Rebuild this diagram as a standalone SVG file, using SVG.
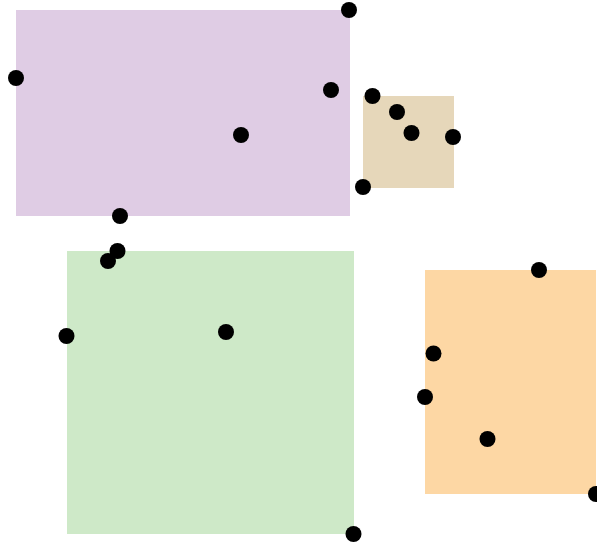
<svg xmlns="http://www.w3.org/2000/svg" width="597" height="545" viewBox="0 0 597 545">
<style>
.dot{fill:#000}
</style>
<rect width="597" height="545" fill="#fff"/>
<g id="regions">
<rect id="purple" x="16" y="10" width="334" height="206" fill="#dfcce4"/>
<rect id="tan" x="363" y="96" width="91" height="92" fill="#e6d7ba"/>
<rect id="green" x="67" y="251" width="287" height="283" fill="#cee9c8"/>
<rect id="orange" x="425" y="270" width="171" height="224" fill="#fdd7a4"/>
</g>
<g id="points">
<circle class="dot" cx="349" cy="10" r="8"/>
<circle class="dot" cx="16" cy="78" r="8"/>
<circle class="dot" cx="331" cy="90" r="8"/>
<circle class="dot" cx="372.5" cy="96" r="8"/>
<circle class="dot" cx="397" cy="112" r="8"/>
<circle class="dot" cx="411.5" cy="133" r="8"/>
<circle class="dot" cx="453" cy="137" r="8"/>
<circle class="dot" cx="363" cy="187" r="8"/>
<circle class="dot" cx="241" cy="135" r="8"/>
<circle class="dot" cx="120" cy="216" r="8"/>
<circle class="dot" cx="117.5" cy="251" r="8"/>
<circle class="dot" cx="108" cy="261" r="8"/>
<circle class="dot" cx="66.5" cy="336" r="8"/>
<circle class="dot" cx="226" cy="332" r="8"/>
<circle class="dot" cx="539" cy="270" r="8"/>
<circle class="dot" cx="433.5" cy="353.5" r="8"/>
<circle class="dot" cx="425" cy="397" r="8"/>
<circle class="dot" cx="487.5" cy="439" r="8"/>
<circle class="dot" cx="596" cy="494" r="8"/>
<circle class="dot" cx="353.5" cy="534" r="8"/>
</g>
</svg>
